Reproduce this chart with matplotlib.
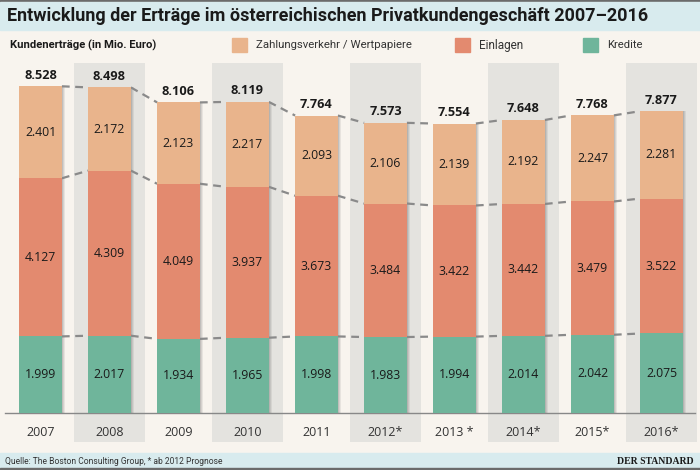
import matplotlib
matplotlib.use("Agg")
import matplotlib.pyplot as plt
from matplotlib.patches import Rectangle
import numpy as np

years = ["2007", "2008", "2009", "2010", "2011", "2012*", "2013 *", "2014*", "2015*", "2016*"]
kredite = [1999, 2017, 1934, 1965, 1998, 1983, 1994, 2014, 2042, 2075]
einlagen = [4127, 4309, 4049, 3937, 3673, 3484, 3422, 3442, 3479, 3522]
zahlung = [2401, 2172, 2123, 2217, 2093, 2106, 2139, 2192, 2247, 2281]
totals = [8528, 8498, 8106, 8119, 7764, 7573, 7554, 7648, 7768, 7877]

C_Z = "#e9b48c"
C_E = "#e38a6f"
C_K = "#6fb59b"
BG = "#f8f4ee"
BAND = "#d8ebee"
SHADE = "#e4e3df"
DARK = "#6b6b6b"

def fmt(v):
    return f"{v:,}".replace(",", ".")

FONT = ["Open Sans", "DejaVu Sans"]
TFONT = ["Roboto", "DejaVu Sans"]

fig = plt.figure(figsize=(7, 4.7), dpi=100, facecolor=BG)
renderer = fig.canvas.get_renderer()

def fit(t, target_px):
    bb = t.get_window_extent(renderer)
    t.set_fontsize(t.get_fontsize() * target_px / bb.width)

def px_rect(x0, y0, x1, y1, color):
    fig.patches.append(Rectangle((x0 / 700, 1 - y1 / 470), (x1 - x0) / 700, (y1 - y0) / 470,
                                 transform=fig.transFigure, color=color, zorder=0))

px_rect(0, 0, 700, 2, DARK)
px_rect(0, 2, 700, 30, BAND)
px_rect(0, 453, 700, 468, BAND)
px_rect(0, 468, 700, 470, DARK)

t = fig.text(7 / 700, 1 - 16 / 470, "Entwicklung der Erträge im österreichischen Privatkundengeschäft 2007–2016",
             fontsize=14, fontweight="bold", family=TFONT, va="center", ha="left", color="#1a1a1a")
fit(t, 641)
t = fig.text(10 / 700, 1 - 45 / 470, "Kundenerträge (in Mio. Euro)", fontsize=8.5, fontweight="bold",
             family=TFONT, va="center", ha="left", color="#1a1a1a")
fit(t, 145)

for x0, col, lab, wd in [(232, C_Z, "Zahlungsverkehr / Wertpapiere", 154), (455, C_E, "Einlagen", 44), (583, C_K, "Kredite", 35)]:
    px_rect(x0, 38, x0 + 15, 52, col)
    t = fig.text((x0 + 24) / 700, 1 - 45 / 470, lab, fontsize=8.5, family=TFONT, va="center", ha="left", color="#333333")
    fit(t, wd)

t = fig.text(5 / 700, 1 - 462 / 470, "Quelle: The Boston Consulting Group, * ab 2012 Prognose", fontsize=6.5,
             family=TFONT, va="center", ha="left", color="#333333")
fit(t, 217)
fig.text(694 / 700, 1 - 461 / 470, "DER STANDARD", fontsize=7, family=["Liberation Serif", "DejaVu Serif"],
         fontweight="bold", va="center", ha="right", color="#1a1a1a")

# axes: px x 0..700, y 63..442
ax = fig.add_axes([0, (470 - 442) / 470, 1, (442 - 63) / 470])
ax.set_facecolor("none")
x = np.arange(len(years))
ax.set_xlim(-40.5 / 69, (700 - 40.5) / 69)
ax.set_ylim(-29 * 26.1, 350 * 26.1)
for s in ax.spines.values():
    s.set_visible(False)
ax.set_xticks([])
ax.set_yticks([])

for i in x:
    if i % 2 == 1:
        ax.axvspan(i - 0.513, i + 0.513, color=SHADE, zorder=0, lw=0)

ax.plot([-35.5 / 69, (695 - 40.5) / 69], [0, 0], color="#888888", lw=1, zorder=1)

w = 0.62
k = np.array(kredite)
e = np.array(einlagen)
z = np.array(zahlung)
for off, a in [(0.05, 0.10), (0.035, 0.12), (0.02, 0.15)]:
    ax.bar(x + off, k + e + z, width=w, bottom=0, color="#555555", alpha=a, zorder=2, lw=0)
ax.bar(x, k, width=w, color=C_K, zorder=3, lw=0)
ax.bar(x, e, width=w, bottom=k, color=C_E, zorder=3, lw=0)
ax.bar(x, z, width=w, bottom=k + e, color=C_Z, zorder=3, lw=0)

for lev in [k, k + e, k + e + z]:
    for i in range(len(x) - 1):
        ax.plot([i + w / 2, i + 1 - w / 2], [lev[i], lev[i + 1]], color="#8a8a8a", lw=1.6,
                dashes=(3.5, 2.5), zorder=2)

for i in x:
    ax.text(i, k[i] / 2, fmt(kredite[i]), ha="center", va="center", fontsize=8.8, family=FONT, color="#1a1a1a", zorder=4)
    ax.text(i, k[i] + e[i] / 2, fmt(einlagen[i]), ha="center", va="center", fontsize=8.8, family=FONT, color="#1a1a1a", zorder=4)
    ax.text(i, k[i] + e[i] + z[i] / 2, fmt(zahlung[i]), ha="center", va="center", fontsize=8.8, family=FONT, color="#1a1a1a", zorder=4)
    ax.annotate(fmt(totals[i]), (i, k[i] + e[i] + z[i]), xytext=(0, 11), textcoords="offset pixels",
                ha="center", va="center", fontsize=9.2, fontweight="bold", family=FONT, color="#1a1a1a", zorder=4)
    ax.text(i, -19 * 26.1, years[i], ha="center", va="center", fontsize=9, family=FONT, color="#333333")

fig.savefig("out.png", dpi=100, facecolor=BG)
